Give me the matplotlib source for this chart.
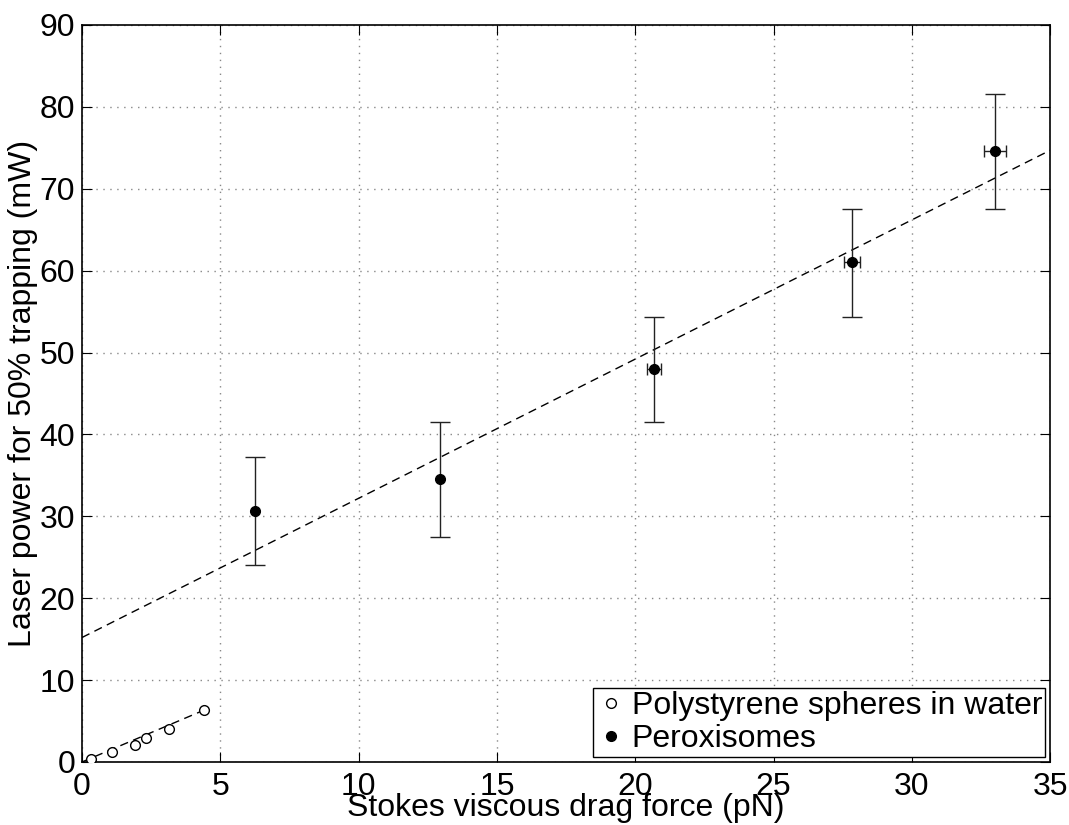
import matplotlib
matplotlib.use('Agg')
import matplotlib.pyplot as plt
import numpy as np

plt.rcParams['font.family'] = ['Liberation Sans', 'DejaVu Sans']

# polystyrene spheres in water
ps_force = [0.33, 1.07, 1.92, 2.31, 3.16, 4.42]
ps_power = [0.33, 1.2, 2.1, 2.97, 4.07, 6.39]

# peroxisomes
px_force = [6.25, 12.95, 20.68, 27.84, 33.0]
px_power = [30.6, 34.5, 48.0, 61.0, 74.6]
px_force_err = [0.0, 0.0, 0.25, 0.3, 0.4]
px_power_lo = [24.0, 27.5, 41.5, 54.3, 67.5]
px_power_hi = [37.2, 41.5, 54.3, 67.5, 81.6]

# fitted lines
px_fit_x = [0, 35]
px_fit_y = [15.2, 74.7]
ps_fit_x = [0, 4.6]
ps_fit_y = [0.0, 6.6]

fs = 23

fig = plt.figure(figsize=(10.69, 8.25), dpi=100)
ax = fig.add_axes([0.0767, 0.0764, 0.9057, 0.8933])

ax.plot(ps_fit_x, ps_fit_y, 'k--', lw=1, dashes=(6, 4))
ax.plot(px_fit_x, px_fit_y, 'k--', lw=1, dashes=(6, 4))

ax.plot(ps_force, ps_power, 'o', mfc='white', mec='black', ms=7, mew=1,
        label='Polystyrene spheres in water', zorder=3)

yerr = [np.array(px_power) - np.array(px_power_lo),
        np.array(px_power_hi) - np.array(px_power)]
ax.errorbar(px_force, px_power, yerr=yerr, fmt='none', ecolor='#222222',
            elinewidth=1, capsize=7, capthick=1, zorder=2)
has_xerr = [i for i, e in enumerate(px_force_err) if e > 0]
ax.errorbar([px_force[i] for i in has_xerr], [px_power[i] for i in has_xerr],
            xerr=[px_force_err[i] for i in has_xerr], fmt='none',
            ecolor='#222222', elinewidth=1, capsize=4, capthick=1, zorder=2)
ax.plot(px_force, px_power, 'o', color='black', ms=7,
        label='Peroxisomes', zorder=3)

ax.set_xlim(0, 35)
ax.set_ylim(0, 90)
ax.set_xticks(range(0, 36, 5))
ax.set_yticks(range(0, 91, 10))
ax.tick_params(direction='in', top=True, right=True, labelsize=fs, length=7)
ax.tick_params(axis='x', pad=7)
ax.tick_params(axis='y', pad=5)
ax.grid(True, color='#888888', linestyle=(0, (1, 4)), lw=1)
for s in ax.spines.values():
    s.set_linewidth(1.2)

ax.set_xlabel('Stokes viscous drag force (pN)', fontsize=fs, labelpad=-6)
ax.set_ylabel('Laser power for 50% trapping (mW)', fontsize=fs, labelpad=1)

leg = ax.legend(loc='lower right', fontsize=fs, frameon=True, fancybox=False,
                borderpad=0.1, handletextpad=0.2, handlelength=0.9,
                borderaxespad=0.15, labelspacing=0.1)
leg.get_frame().set_edgecolor('black')
leg.get_frame().set_linewidth(1)
leg.get_frame().set_alpha(1)

fig.savefig('out.png', dpi=100)
